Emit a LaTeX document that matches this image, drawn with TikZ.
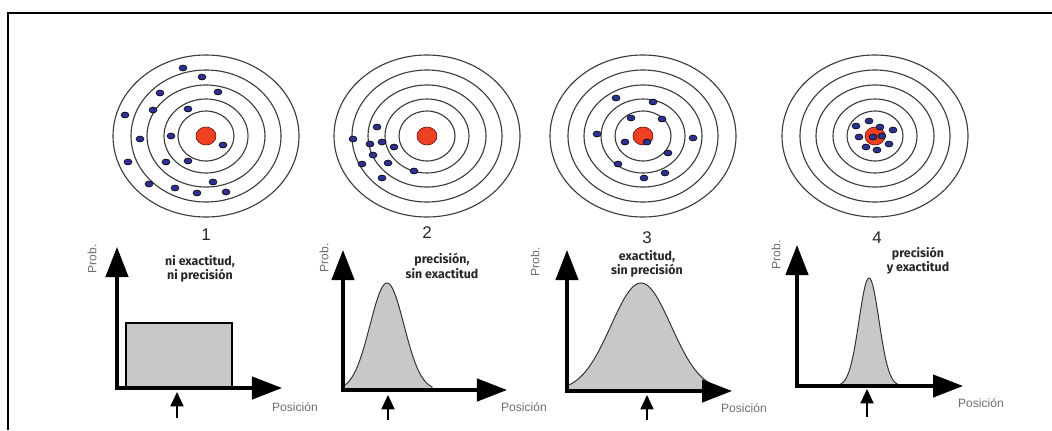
\documentclass[tikz,border=0pt]{standalone}
\usepackage{fontspec}
\setmainfont{Liberation Sans}
\newfontfamily\capfont{Fira Sans}
\usetikzlibrary{arrows.meta}
\definecolor{tgRed}{HTML}{EE4123}
\definecolor{tgBlue}{HTML}{2E3192}
\definecolor{tgRing}{HTML}{3C3C3C}
\definecolor{pdfFill}{HTML}{C8C8CB}
\definecolor{axGrey}{HTML}{6D6E71}
\begin{document}
\begin{tikzpicture}[x=0.025cm,y=-0.025cm,
  ring/.style={draw=tgRing,line width=0.8pt},
  bull/.style={draw=black!60!red,fill=tgRed,line width=0.4pt},
  hit/.style={draw=black,fill=tgBlue,line width=0.4pt},
  axis/.style={{Triangle[length=7.5mm,width=5.6mm]}-{Triangle[length=7.5mm,width=5.6mm]},line width=2.2pt},
  pin/.style={-{Triangle[length=3.6mm,width=3.3mm]},line width=1pt},
  pdf/.style={draw=black!80,fill=pdfFill,line width=0.7pt},
  num/.style={font=\fontsize{12}{14}\selectfont,text=black!85},
  verdict/.style={font=\capfont\bfseries\fontsize{8.8}{10.2}\selectfont,align=center,text=black!85},
  xlab/.style={font=\fontsize{8.6}{10}\selectfont,text=axGrey},
  ylab/.style={font=\fontsize{8.6}{10}\selectfont,text=axGrey,rotate=90}]
\useasboundingbox (0,0) rectangle (1052,430);
\draw[line width=1.5pt] (8,430) |- (1052,13);
% targets
\foreach \n/\cx in {1/206,2/427,3/643,4/875} {
  \coordinate (t\n) at (\cx,136);
  \foreach \rx/\ry in {93/81,75/66,59/51,42/37,28/25}
    \draw[ring] (t\n) ellipse [x radius=\rx, y radius=\ry];
  \draw[bull] (t\n) ellipse [x radius=10, y radius=9];
}
\foreach \x/\y in {183/68,202/77,160/93,218/92,125/115,153/110,188/109,140/139,171/136,223/145,
                   128/162,166/162,188/161,213/182,149/184,175/188,197/193,226/192}
  \draw[hit] (\x,\y) ellipse [x radius=4, y radius=3];
\foreach \x/\y in {377/127,353/139,370/144,382/142,394/147,373/155,362/164,388/163,414/171,382/178}
  \draw[hit] (\x,\y) ellipse [x radius=4, y radius=3];
\foreach \x/\y in {616/98,653/102,631/118,662/119,597/134,693/138,625/142,647/142,668/153,618/164,665/173,644/178}
  \draw[hit] (\x,\y) ellipse [x radius=4, y radius=3];
\foreach \x/\y in {856/126,869/121,880/127,893/130,859/137,873/137,882/136,866/147,889/144,877/150}
  \draw[hit] (\x,\y) ellipse [x radius=4, y radius=3];
% labels
\node[num] (n1) at (206,235) {1};
\node[num] (n2) at (427,233) {2};
\node[num] (n3) at (647,238) {3};
\node[num] (n4) at (877,238) {4};
\node[verdict] (v1) at (200,269) {ni exactitud,\\ ni precisión};
\node[verdict] (v2) at (442,266) {precisión,\\ sin exactitud};
\node[verdict] (v3) at (647,264) {exactitud,\\ sin precisión};
\node[verdict] (v4) at (918,261) {precisión\\ y exactitud};
% plot 1
\coordinate (o1) at (117,388);
\coordinate (y1) at (117,247);
\coordinate (x1) at (282,388);
\draw[pdf,draw=black,line width=1.2pt] (126,323) rectangle (232,388);
\draw[axis] (y1) -- (o1) -- (x1);
\coordinate (p1a) at (177,418);
\coordinate (p1b) at (177,392);
\draw[pin] (p1a) -- (p1b);
\node[xlab] (xl1) at (295,407) {Posición};
\node[ylab] (yl1) at (92,259) {Prob.};
% plot 2
\coordinate (o2) at (343,390);
\coordinate (y2) at (343,250);
\coordinate (x2) at (507,390);
\draw[pdf] plot[domain=343:432,samples=60] (\x,{390-107*exp(-0.5*pow((\x-387)/17,2))}) -- (432,390) -- (343,390) -- cycle;
\draw[axis] (y2) -- (o2) -- (x2);
\coordinate (p2a) at (388,420);
\coordinate (p2b) at (388,395);
\draw[pin] (p2a) -- (p2b);
\node[xlab] (xl2) at (524,407) {Posición};
\node[ylab] (yl2) at (324,258) {Prob.};
% plot 3
\coordinate (o3) at (567,391);
\coordinate (y3) at (567,250);
\coordinate (x3) at (732,391);
\draw[pdf] plot[domain=567:712,samples=80] (\x,{391-108*exp(-0.5*pow((\x-641)/30,2))}) -- (712,391) -- (567,391) -- cycle;
\draw[axis] (y3) -- (o3) -- (x3);
\coordinate (p3a) at (647,420);
\coordinate (p3b) at (647,395);
\draw[pin] (p3a) -- (p3b);
\node[xlab] (xl3) at (744,408) {Posición};
\node[ylab] (yl3) at (535,262) {Prob.};
% plot 4
\coordinate (o4) at (797,386);
\coordinate (y4) at (797,245);
\coordinate (x4) at (963,386);
\draw[pdf] plot[domain=838:900,samples=60] (\x,{386-108*exp(-0.5*pow((\x-869)/10,2))}) -- (900,386) -- (838,386) -- cycle;
\draw[axis] (y4) -- (o4) -- (x4);
\coordinate (p4a) at (867,417);
\coordinate (p4b) at (867,389);
\draw[pin] (p4a) -- (p4b);
\node[xlab] (xl4) at (981,403) {Posición};
\node[ylab] (yl4) at (776,255) {Prob.};
\end{tikzpicture}
\end{document}
